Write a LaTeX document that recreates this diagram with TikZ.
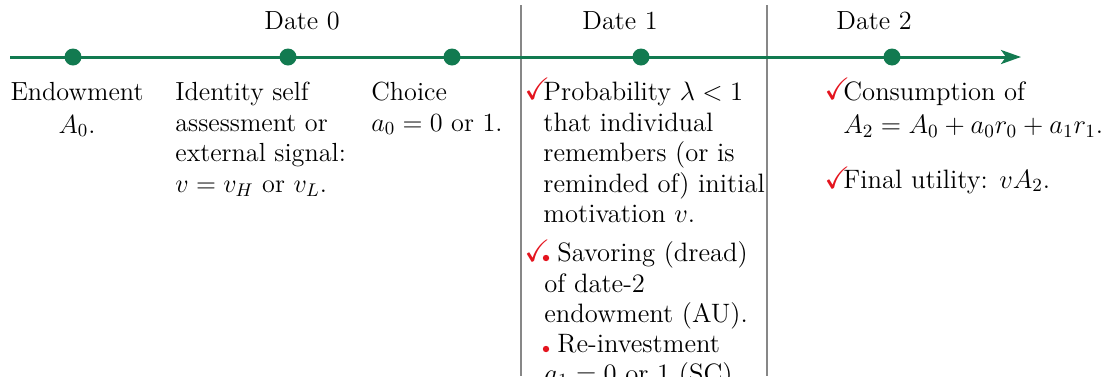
\RequirePackage{fix-cm}
\documentclass[tikz,border=0pt]{standalone}
\usepackage{amssymb}
\usetikzlibrary{arrows.meta}
\definecolor{tlgreen}{RGB}{18,122,80}
\definecolor{vgray}{RGB}{135,135,135}
\definecolor{ckred}{RGB}{228,20,30}
\begin{document}
\begin{tikzpicture}[x=0.5pt,y=-0.5pt,
  txt/.style={inner sep=0pt, font=\fontsize{13.1}{15.3}\selectfont, align=left},
  blk/.style={txt, anchor=north west},
  dtone/.style={font=\fontsize{13.3}{15.3}\selectfont},
  dtlow/.style={font=\fontsize{13.3}{12.8}\selectfont},
  dot/.style={circle, fill=tlgreen, inner sep=0pt, minimum size=8.5pt},
  ck/.style={inner sep=0pt, text=ckred, font=\fontsize{15.5}{16}\selectfont, anchor=base west},
  rdot/.style={circle, fill=ckred, inner sep=0pt, minimum size=3.2pt},
  sep/.style={draw=vgray, line width=1pt},
  axis/.style={draw=tlgreen, line width=1.5pt, -{Stealth[length=10pt,width=7pt,inset=2.5pt]}}]
\useasboundingbox (0,0) rectangle (1102,376);
% separators
\coordinate (v1t) at (521,5); \coordinate (v1b) at (521,376);
\coordinate (v2t) at (767,5); \coordinate (v2b) at (767,376);
\draw[sep] (v1t) -- (v1b);
\draw[sep] (v2t) -- (v2b);
% timeline
\coordinate (tl0) at (10,57); \coordinate (tl1) at (1021,57);
\draw[axis] (tl0) -- (tl1);
\node[dot] (e0) at (73,57) {};
\node[dot] (e1) at (288,57) {};
\node[dot] (e2) at (452,57) {};
\node[dot] (e3) at (641,57) {};
\node[dot] (e4) at (892,57) {};
% date labels
\node[txt, anchor=base] (date0) at (302,29) {Date 0};
\node[txt, anchor=base] (date1) at (620,29) {Date 1};
\node[txt, anchor=base] (date2) at (874,29) {Date 2};
% date 0 texts  (strut height 0.7*15.3pt = 21.4px)
\node[txt, align=center, anchor=north] (endow) at (77,78.6) {\strut Endowment\\[1pt] $A_0$.};
\node[blk] (ident) at (175,78.6) {\strut Identity self\\ assessment or\\ external signal:\\ $v=v_H$ or $v_L$.};
\node[blk] (choice) at (371,78.6) {\strut Choice\\ $a_0=0$ or 1.};
% date 1 texts
\node[ck] (ck1) at (524,99) {$\checkmark$};
\node[blk, dtone] (prob) at (543,78.6) {\strut Probability $\lambda<1$\\ that individual\\ remembers (or is\\ reminded of) initial\\ motivation $v$.};
\node[ck] (ck2) at (524,261) {$\checkmark$};
\node[rdot] (rd1) at (546,258) {};
\node[blk, dtone] (savor) at (544,239.6) {\strut\hspace*{6.5pt}Savoring (dread)\\ of date-2\\ endowment (AU).};
\node[rdot] (rd2) at (546,349) {};
\node[blk, dtlow] (reinv) at (544,334.1) {\strut\hspace*{6.5pt}Re-investment\\ $a_1=0$ or 1 (SC)};
% date 2 texts
\node[ck] (ck3) at (824,99) {$\checkmark$};
\node[blk, dtone] (cons) at (843,78.6) {\strut Consumption of\\[1pt] $A_2=A_0+a_0r_0+a_1r_1$.};
\node[ck] (ck4) at (824,188) {$\checkmark$};
\node[txt, dtone, anchor=base west] (util) at (843,188) {Final utility: $vA_2$.};
\end{tikzpicture}
\end{document}
